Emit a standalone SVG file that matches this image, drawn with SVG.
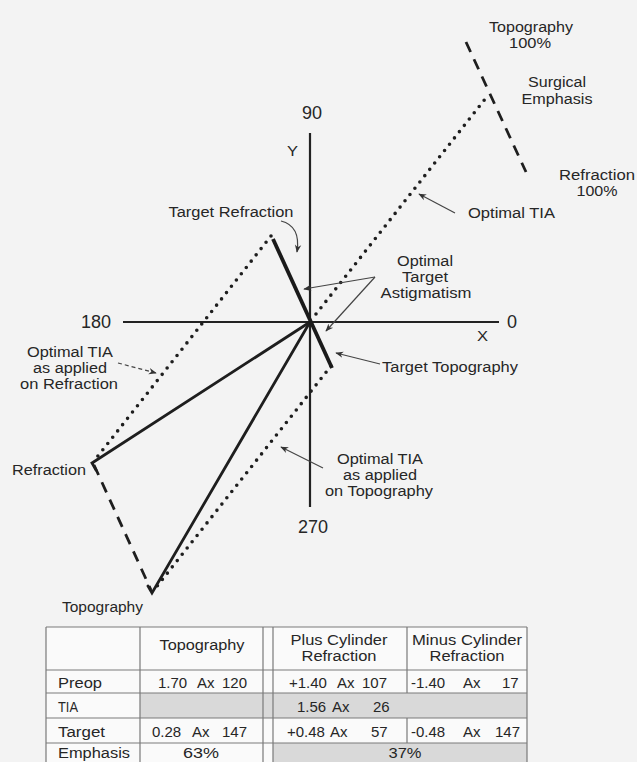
<svg xmlns="http://www.w3.org/2000/svg" width="637" height="762" viewBox="0 0 637 762">
<style>
text{font-family:"Liberation Sans",Arial,sans-serif;fill:#262626;font-size:14px}
.ax{font-size:18px}
.v{font-size:15px}
.c{text-anchor:middle}
.e{text-anchor:end}
.axis{stroke:#222;stroke-width:2.2;fill:none}
.solid{stroke:#1e1e1e;stroke-width:2.8;fill:none;stroke-linecap:round}
.thick{stroke:#1a1a1a;stroke-width:3.8;fill:none}
.dot{stroke:#1e1e1e;stroke-width:3.6;fill:none;stroke-dasharray:0 8;stroke-linecap:round}
.dash{stroke:#1e1e1e;stroke-width:2.8;fill:none;stroke-dasharray:11 8}
.ptr{stroke:#444;stroke-width:1.2;fill:none;marker-end:url(#ah)}
.ptrd{stroke:#444;stroke-width:1.2;fill:none;stroke-dasharray:4 3;marker-end:url(#ah)}
.grid{stroke:#7a7a7a;stroke-width:1.2;fill:none}
</style>
<defs>
<marker id="ah" viewBox="0 0 10 10" refX="9" refY="5" markerWidth="8" markerHeight="8" orient="auto" markerUnits="userSpaceOnUse">
<path d="M0,1 L10,5 L0,9 L3,5 Z" fill="#333"/>
</marker>
</defs>
<rect width="637" height="762" fill="#f3f3f3"/>

<g id="axes">
<line class="axis" x1="310" y1="133" x2="310" y2="507"/>
<line class="axis" x1="123" y1="322" x2="499" y2="322"/>
<text class="ax c" x="312" y="119">90</text>
<text x="287" y="156" textLength="11" lengthAdjust="spacingAndGlyphs">Y</text>
<text class="ax c" x="96" y="328">180</text>
<text class="ax" x="507" y="328">0</text>
<text x="477" y="341" textLength="11" lengthAdjust="spacingAndGlyphs">X</text>
<text class="ax c" x="313" y="533">270</text>
</g>

<g id="connectors">
<line class="dash" x1="466" y1="42" x2="526" y2="172"/>
<line class="dash" x1="94" y1="465" x2="151" y2="590"/>
<line class="dot" x1="316" y1="314" x2="489" y2="94"/>
<line class="dot" x1="271" y1="236" x2="94" y2="461"/>
<line class="dot" x1="331" y1="366" x2="154" y2="590"/>
<polyline class="solid" points="310,322 92,463 96,470"/>
<polyline class="solid" points="310,322 152,593 148,586"/>
<line class="thick" x1="273" y1="239" x2="332" y2="368"/>
<path class="ptr" d="M455 213 L419 194"/>
<path class="ptr" d="M281 221 Q301 226 297 252"/>
<path class="ptr" d="M375 277 L304 289"/>
<path class="ptr" d="M375 277 L326 331"/>
<path class="ptr" d="M380 364 L336 353"/>
<path class="ptrd" d="M118 363 L156 373"/>
<path class="ptr" d="M323 468 L281 447"/>
</g>

<g id="label-topo100"><text class="c" x="531" y="32" textLength="84" lengthAdjust="spacingAndGlyphs">Topography</text><text class="c" x="530" y="48" textLength="42" lengthAdjust="spacingAndGlyphs">100%</text></g>
<g id="label-emphasis"><text class="c" x="557" y="87" textLength="58" lengthAdjust="spacingAndGlyphs">Surgical</text><text class="c" x="557" y="104" textLength="71" lengthAdjust="spacingAndGlyphs">Emphasis</text></g>
<g id="label-refr100"><text class="c" x="597" y="180" textLength="76" lengthAdjust="spacingAndGlyphs">Refraction</text><text class="c" x="597" y="196" textLength="41" lengthAdjust="spacingAndGlyphs">100%</text></g>
<g id="label-optimal-tia"><text x="468" y="218" textLength="87" lengthAdjust="spacingAndGlyphs">Optimal TIA</text></g>
<g id="label-target-refraction"><text class="c" x="231" y="217" textLength="125" lengthAdjust="spacingAndGlyphs">Target Refraction</text></g>
<g id="label-ota"><text class="c" x="425" y="266" textLength="56" lengthAdjust="spacingAndGlyphs">Optimal</text><text class="c" x="425" y="282" textLength="46" lengthAdjust="spacingAndGlyphs">Target</text><text class="c" x="426" y="298" textLength="91" lengthAdjust="spacingAndGlyphs">Astigmatism</text></g>
<g id="label-target-topography"><text x="382" y="372" textLength="136" lengthAdjust="spacingAndGlyphs">Target Topography</text></g>
<g id="label-tia-refraction"><text class="c" x="70" y="357" textLength="86" lengthAdjust="spacingAndGlyphs">Optimal TIA</text><text class="c" x="70" y="373" textLength="74" lengthAdjust="spacingAndGlyphs">as applied</text><text class="c" x="69" y="389" textLength="98" lengthAdjust="spacingAndGlyphs">on Refraction</text></g>
<g id="label-tia-topography"><text class="c" x="380" y="464" textLength="86" lengthAdjust="spacingAndGlyphs">Optimal TIA</text><text class="c" x="380" y="480" textLength="74" lengthAdjust="spacingAndGlyphs">as applied</text><text class="c" x="379" y="496" textLength="108" lengthAdjust="spacingAndGlyphs">on Topography</text></g>
<g id="label-refraction"><text class="e" x="86" y="475" textLength="74" lengthAdjust="spacingAndGlyphs">Refraction</text></g>
<g id="label-topography"><text x="62" y="612" textLength="81" lengthAdjust="spacingAndGlyphs">Topography</text></g>

<g id="table">
<rect x="46" y="627" width="481" height="140" fill="#fafafa"/>
<rect x="140" y="693" width="387" height="25" fill="#d9d9d9"/>
<rect x="273" y="743" width="254" height="24" fill="#d9d9d9"/>
<path class="grid" d="M46 627 H527 M46 670 H527 M46 693 H527 M46 718 H527 M46 743 H527 M46 627 V762 M140 627 V762 M263 627 V762 M273 627 V762 M407 627 V693 M407 718 V743 M527 627 V762"/>
<text class="c" x="202" y="650" textLength="85" lengthAdjust="spacingAndGlyphs">Topography</text>
<text class="c" x="339" y="645" textLength="97" lengthAdjust="spacingAndGlyphs">Plus Cylinder</text>
<text class="c" x="339" y="661" textLength="75" lengthAdjust="spacingAndGlyphs">Refraction</text>
<text class="c" x="467" y="645" textLength="110" lengthAdjust="spacingAndGlyphs">Minus Cylinder</text>
<text class="c" x="467" y="661" textLength="75" lengthAdjust="spacingAndGlyphs">Refraction</text>
<text x="58" y="688" textLength="44" lengthAdjust="spacingAndGlyphs">Preop</text>
<text x="58" y="712" textLength="20" lengthAdjust="spacingAndGlyphs">TIA</text>
<text x="58" y="737" textLength="47" lengthAdjust="spacingAndGlyphs">Target</text>
<text x="58" y="758" textLength="72" lengthAdjust="spacingAndGlyphs">Emphasis</text>
<text class="v"><tspan x="158" y="688">1.70</tspan><tspan x="197">Ax</tspan><tspan x="222">120</tspan></text>
<text class="v"><tspan x="289" y="688">+1.40</tspan><tspan x="337">Ax</tspan><tspan x="362">107</tspan></text>
<text class="v"><tspan x="411" y="688">-1.40</tspan><tspan x="463">Ax</tspan><tspan x="502">17</tspan></text>
<text class="v"><tspan x="297" y="712">1.56</tspan><tspan x="332">Ax</tspan><tspan x="373">26</tspan></text>
<text class="v"><tspan x="152" y="737">0.28</tspan><tspan x="192">Ax</tspan><tspan x="222">147</tspan></text>
<text class="v"><tspan x="287" y="737">+0.48</tspan><tspan x="330">Ax</tspan><tspan x="371">57</tspan></text>
<text class="v"><tspan x="411" y="737">-0.48</tspan><tspan x="463">Ax</tspan><tspan x="495">147</tspan></text>
<text class="c" x="201" y="758" textLength="36" lengthAdjust="spacingAndGlyphs">63%</text>
<text class="c" x="405" y="758" textLength="33" lengthAdjust="spacingAndGlyphs">37%</text>
</g>
</svg>
